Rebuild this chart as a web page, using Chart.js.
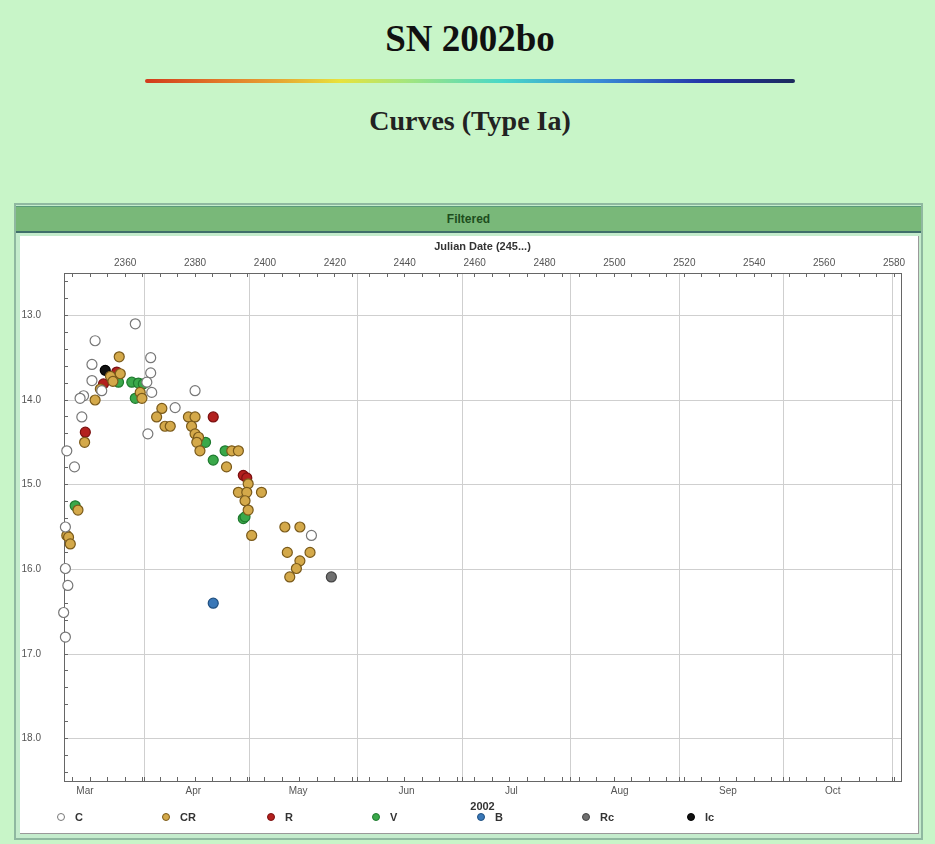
<!DOCTYPE html>
<html>
<head>
<meta charset="utf-8">
<script src="https://cdn.jsdelivr.net/npm/chart.js@4.4.0/dist/chart.umd.min.js"></script>
<style>
  body { margin: 0; width: 935px; height: 844px; background: #c8f5c8; position: relative; overflow: hidden; font-family: "Liberation Sans", Arial, sans-serif; }
  .t1 { position: absolute; left: 0; width: 940px; top: 20px; text-align: center; font: bold 37px/37px "Liberation Serif", "Times New Roman", serif; color: #111; }
  .bar { position: absolute; left: 145px; top: 79px; width: 650px; height: 4px; border-radius: 2px;
         background: linear-gradient(to right, #d23a1c 0%, #e27a2a 12%, #e6a232 20%, #e8e23c 30%, #a6e67c 40%, #48d8c8 55%, #3a8ad6 70%, #2434a8 86%, #1c2a5c 100%); }
  .t2 { position: absolute; left: 0; width: 940px; top: 107px; text-align: center; font: bold 28px/28px "Liberation Serif", "Times New Roman", serif; color: #222; }
  #panel { position: absolute; left: 14px; top: 203px; width: 905px; height: 633px; border: 2px solid #8fb8a0; background: #c4eccc; }
  #hdr { position: absolute; left: 0; right: 0; top: 1px; height: 24px; background: #79b879; border-top: 1px solid #5a9a7a; border-bottom: 2px solid #3f6f6a;
         text-align: center; font: bold 12px/24px "Liberation Sans", Arial, sans-serif; color: #1d4d1d; }
  #box { position: absolute; left: 4px; top: 31px; width: 898px; height: 597px; background: #fff; border-right: 1px solid #999; border-bottom: 1px solid #999; }
  #lc { position: absolute; left: 0; top: 0; }
  #legend { position: absolute; left: 37px; top: 573px; height: 16px; display: flex; }
  .item { width: 105px; display: flex; align-items: center; font: bold 11px/16px "Liberation Sans", Arial, sans-serif; color: #333; }
  .dot { width: 8px; height: 8px; border-radius: 50%; margin-right: 10px; box-sizing: border-box; border: 1px solid #555; }
</style>
</head>
<body>
<div class="t1">SN 2002bo</div>
<div class="bar"></div>
<div class="t2">Curves (Type Ia)</div>
<div id="panel">
  <div id="hdr">Filtered</div>
  <div id="box">
    <canvas id="lc" width="898" height="578"></canvas>
    <div id="legend"></div>
  </div>
</div>
<script>
const ptsC = [[2362.9,13.10],[2351.4,13.30],[2367.3,13.50],[2350.5,13.58],[2367.3,13.68],[2366.2,13.79],[2350.5,13.77],
  [2353.3,13.89],[2367.6,13.91],[2380.0,13.89],[2348.1,13.95],[2347.1,13.98],[2374.3,14.09],[2347.6,14.20],[2366.5,14.40],
  [2343.3,14.60],[2345.5,14.79],[2342.9,15.50],[2342.9,15.99],[2343.6,16.19],[2342.4,16.51],[2342.9,16.80],[2413.3,15.60]];
const ptsCR = [[2358.3,13.49],[2358.6,13.69],[2352.9,13.87],[2364.3,13.91],[2351.4,14.00],[2364.8,13.98],[2370.5,14.10],
  [2369.0,14.20],[2371.4,14.31],[2372.9,14.31],[2378.1,14.20],[2380.0,14.20],[2379.0,14.31],[2348.4,14.50],[2380.0,14.40],
  [2381.0,14.44],[2380.5,14.50],[2381.4,14.60],[2390.5,14.60],[2392.4,14.60],[2389.0,14.79],[2395.2,14.99],[2392.4,15.09],
  [2394.8,15.09],[2399.0,15.09],[2394.3,15.19],[2395.2,15.30],[2396.2,15.60],[2405.7,15.50],[2410.0,15.50],[2406.4,15.80],
  [2412.9,15.80],[2410.0,15.90],[2409.0,15.99],[2407.1,16.09],[2346.5,15.30],[2343.3,15.60],[2343.8,15.62],[2344.3,15.70],
  [2355.8,13.72],[2356.5,13.78]];
const ptsR = [[2357.6,13.67],[2353.8,13.81],[2348.6,14.38],[2385.2,14.20],[2393.8,14.89],[2394.8,14.92]];
const ptsV = [[2358.1,13.79],[2361.9,13.79],[2363.8,13.80],[2365.2,13.81],[2362.9,13.98],[2383.0,14.50],[2388.6,14.60],
  [2385.2,14.71],[2393.8,15.40],[2394.3,15.38],[2345.7,15.25]];
const ptsB = [[2385.2,16.40]];
const ptsRc = [[2419.0,16.09]];
const ptsIc = [[2354.3,13.65]];

// axis labels
const monthNames = ['Mar', 'Apr', 'May', 'Jun', 'Jul', 'Aug', 'Sep', 'Oct'];
const monthMid = [2348.5, 2379.5, 2409.5, 2440.5, 2470.5, 2501.5, 2532.5, 2562.5];
const monthStart = [2365.5, 2395.5, 2426.5, 2456.5, 2487.5, 2518.5, 2548.5, 2579.5];

const jdMin = 2342.5, jdMax = 2582;
const magMin = 12.5, magMax = 18.5;

const bands = [
  { label: 'C',  pts: ptsC,  fill: '#ffffff', edge: '#777777' },
  { label: 'CR', pts: ptsCR, fill: '#d4a94a', edge: '#7a5a1a' },
  { label: 'R',  pts: ptsR,  fill: '#b3201e', edge: '#7a1010' },
  { label: 'V',  pts: ptsV,  fill: '#3aa84a', edge: '#1f7a2f' },
  { label: 'B',  pts: ptsB,  fill: '#3a78b8', edge: '#1f4f80' },
  { label: 'Rc', pts: ptsRc, fill: '#707070', edge: '#444444' },
  { label: 'Ic', pts: ptsIc, fill: '#111111', edge: '#000000' }
];

const isWhole = v => Math.abs(v - Math.round(v)) < 1e-6;
const small = { family: 'Liberation Sans, Arial, sans-serif', size: 10 };

const ctx = document.getElementById('lc').getContext('2d');

new Chart(ctx, {
  type: 'scatter',
  data: {
    datasets: bands.map(b => ({
      label: b.label,
      data: b.pts.map(p => ({ x: p[0], y: p[1] })),
      backgroundColor: b.fill,
      borderColor: b.edge,
      borderWidth: 1.2,
      pointRadius: 5,
      clip: false
    }))
  },
  options: {
    responsive: false,
    animation: false,
    layout: { padding: { left: 0, right: 17, top: 0, bottom: 0 } },
    plugins: { legend: { display: false }, tooltip: { enabled: false } },
    scales: {
      x: {
        type: 'linear', position: 'bottom', min: jdMin, max: jdMax,
        afterBuildTicks: s => {
          const vals = [];
          for (let v = 2345; v <= 2580; v += 5) vals.push(v);
          s.ticks = vals.map(v => ({ value: v }))
            .concat(monthStart.map(v => ({ value: v })), monthMid.map(v => ({ value: v })))
            .sort((a, b) => a.value - b.value);
        },
        afterFit: s => { s.height = 33; },
        ticks: {
          autoSkip: false, maxRotation: 0, padding: 8, color: '#555', font: small,
          callback: v => { const i = monthMid.indexOf(v); return i >= 0 ? monthNames[i] : ''; }
        },
        grid: {
          tickLength: -4,
          color: c => monthStart.includes(c.tick.value) ? '#cfcfcf' : 'rgba(0,0,0,0)',
          tickColor: c => monthMid.includes(c.tick.value) ? 'rgba(0,0,0,0)' : '#666'
        },
        border: { color: '#666' },
        title: { display: true, text: '2002', color: '#333', font: { family: 'Liberation Sans, Arial, sans-serif', size: 11, weight: 'bold' }, padding: { top: 0, bottom: 0 } }
      },
      x2: {
        type: 'linear', position: 'top', min: jdMin, max: jdMax,
        afterBuildTicks: s => {
          const vals = [];
          for (let v = 2345; v <= 2580; v += 5) vals.push(v);
          s.ticks = vals.map(v => ({ value: v }));
        },
        afterFit: s => { s.height = 37; },
        ticks: { autoSkip: false, maxRotation: 0, padding: 8, color: '#555', font: small,
          callback: v => (v % 20 === 0 ? String(v) : '') },
        grid: { drawOnChartArea: false, tickLength: -4, tickColor: '#666' },
        border: { color: '#666' },
        title: { display: true, text: 'Julian Date (245...)', color: '#333', font: { family: 'Liberation Sans, Arial, sans-serif', size: 11, weight: 'bold' }, padding: { top: 4, bottom: 0 } }
      },
      y: {
        type: 'linear', position: 'left', reverse: true, min: magMin, max: magMax,
        afterBuildTicks: s => {
          const vals = [];
          for (let v = 12.6; v < 18.45; v += 0.2) vals.push(Math.round(v * 10) / 10);
          s.ticks = vals.map(v => ({ value: v }));
        },
        afterFit: s => { s.width = 44; },
        ticks: { autoSkip: false, padding: 27, color: '#555', font: small,
          callback: v => (isWhole(v) ? v.toFixed(1) : '') },
        grid: {
          tickLength: -4, tickColor: '#666',
          color: c => isWhole(c.tick.value) ? '#cfcfcf' : 'rgba(0,0,0,0)'
        },
        border: { color: '#666' }
      },
      y2: {
        type: 'linear', position: 'right', reverse: true, min: magMin, max: magMax,
        afterFit: s => { s.width = 0; },
        ticks: { display: false },
        grid: { display: false },
        border: { color: '#666' }
      }
    }
  }
});

// legend row under the chart
const legend = document.getElementById('legend');
bands.forEach(b => {
  const item = document.createElement('div');
  item.className = 'item';
  const dot = document.createElement('span');
  dot.className = 'dot';
  dot.style.background = b.fill;
  dot.style.borderColor = b.edge;
  item.appendChild(dot);
  item.appendChild(document.createTextNode(b.label));
  legend.appendChild(item);
});
</script>
</body>
</html>
